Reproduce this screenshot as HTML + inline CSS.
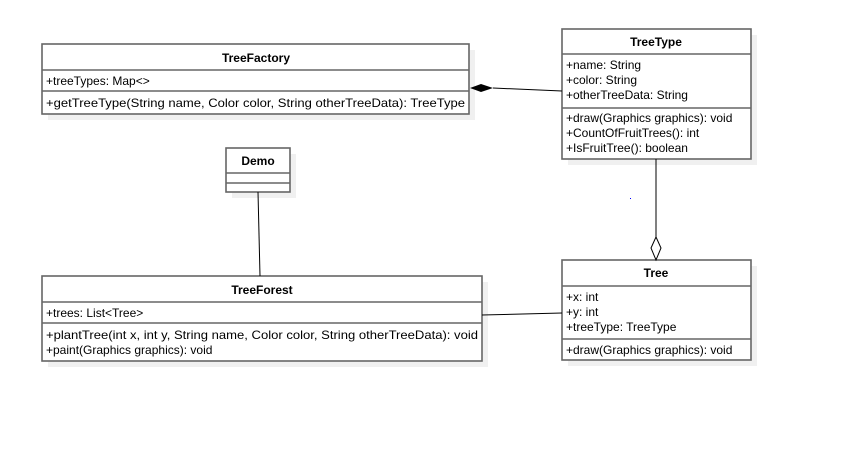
<!DOCTYPE html>
<html><head><meta charset="utf-8"><style>
body{margin:0;background:#fff;width:846px;height:451px;overflow:hidden;font-family:"Liberation Sans",Arial,sans-serif;}
svg text{font-family:"Liberation Sans",Arial,sans-serif;font-size:12px;fill:#000;}
</style></head><body>
<svg width="846" height="451" viewBox="0 0 846 451" xmlns="http://www.w3.org/2000/svg">
<g fill="#f0f0f0">
<rect x="48" y="50" width="427" height="70"/>
<rect x="568" y="35" width="189" height="130"/>
<rect x="232" y="154" width="64" height="44"/>
<rect x="48" y="282" width="440" height="85"/>
<rect x="568" y="266" width="189" height="100"/>
</g>
<g fill="#fff" stroke="#666" stroke-width="1.6">
<rect x="42" y="44" width="427" height="70"/>
<line x1="42" y1="70" x2="469" y2="70"/>
<line x1="42" y1="91" x2="469" y2="91"/>
<rect x="562" y="29" width="189" height="130"/>
<line x1="562" y1="54" x2="751" y2="54"/>
<line x1="562" y1="108" x2="751" y2="108"/>
<rect x="226" y="148" width="64" height="44"/>
<line x1="226" y1="173" x2="290" y2="173"/>
<line x1="226" y1="183" x2="290" y2="183"/>
<rect x="42" y="276" width="440" height="85"/>
<line x1="42" y1="302" x2="482" y2="302"/>
<line x1="42" y1="323" x2="482" y2="323"/>
<rect x="562" y="260" width="189" height="100"/>
<line x1="562" y1="286" x2="751" y2="286"/>
<line x1="562" y1="339" x2="751" y2="339"/>
</g>
<g stroke="#000" stroke-width="1" fill="none">
<line x1="493" y1="88" x2="562" y2="91"/>
<line x1="656" y1="159" x2="656" y2="237"/>
<line x1="258" y1="192" x2="260" y2="276"/>
<line x1="482" y1="315" x2="562" y2="313"/>
</g>
<polygon points="470,88 481,84 493,88 481,92" fill="#000"/>
<polygon points="656,237 661,248 656,260 651,248" fill="#fff" stroke="#000"/>
<rect x="630" y="198" width="1" height="1" fill="#00f"/>
<g font-weight="bold" text-anchor="middle">
<text x="256" y="62" font-weight="bold">TreeFactory</text>
<text x="656" y="46" font-weight="bold">TreeType</text>
<text x="258" y="165" font-weight="bold">Demo</text>
<text x="262" y="294" font-weight="bold">TreeForest</text>
<text x="656" y="277" font-weight="bold">Tree</text>
</g>
<text x="46" y="85">+treeTypes: Map&lt;&gt;</text>
<text x="46" y="107" textLength="419" lengthAdjust="spacingAndGlyphs">+getTreeType(String name, Color color, String otherTreeData): TreeType</text>
<text x="566" y="69">+name: String</text>
<text x="566" y="84">+color: String</text>
<text x="566" y="99">+otherTreeData: String</text>
<text x="566" y="122">+draw(Graphics graphics): void</text>
<text x="566" y="137">+CountOfFruitTrees(): int</text>
<text x="566" y="152">+IsFruitTree(): boolean</text>
<text x="46" y="317">+trees: List&lt;Tree&gt;</text>
<text x="46" y="339" textLength="432" lengthAdjust="spacingAndGlyphs">+plantTree(int x, int y, String name, Color color, String otherTreeData): void</text>
<text x="46" y="354">+paint(Graphics graphics): void</text>
<text x="566" y="301">+x: int</text>
<text x="566" y="316">+y: int</text>
<text x="566" y="331">+treeType: TreeType</text>
<text x="566" y="354">+draw(Graphics graphics): void</text>
</svg>
</body></html>
